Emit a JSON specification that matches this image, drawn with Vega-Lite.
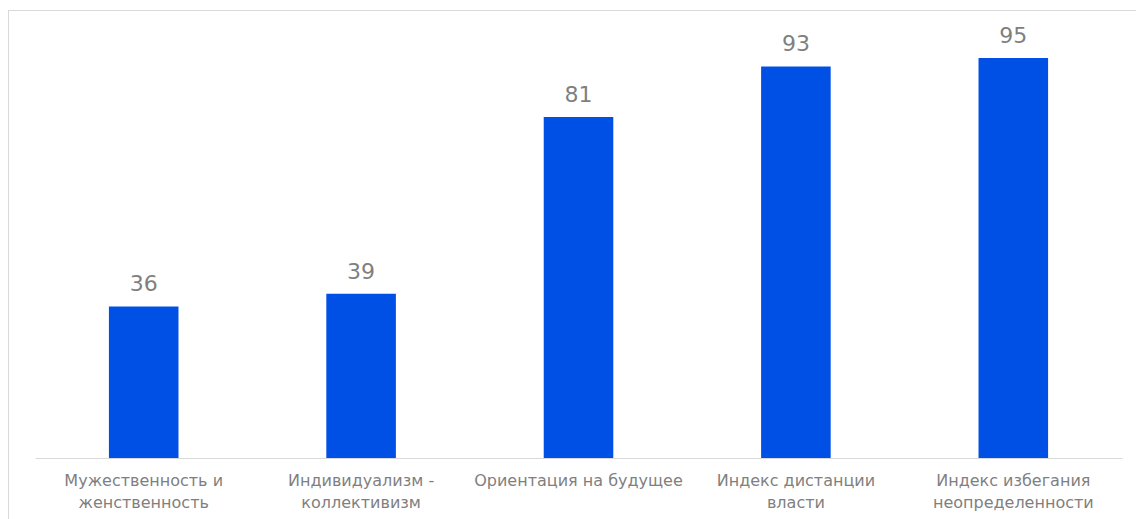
{
  "$schema": "https://vega.github.io/schema/vega-lite/v6.json",
  "width": 1128,
  "height": 509,
  "autosize": {"type": "none"},
  "padding": {"left": 8, "top": 10, "right": 0, "bottom": 0},
  "background": "#ffffff",
  "config": {"view": {"stroke": null}, "font": "DejaVu Sans"},
  "data": {
    "values": [
      {"category": "Мужественность и|женственность", "value": 36},
      {"category": "Индивидуализм -|коллективизм", "value": 39},
      {"category": "Ориентация на будущее", "value": 81},
      {"category": "Индекс дистанции|власти", "value": 93},
      {"category": "Индекс избегания|неопределенности", "value": 95}
    ]
  },
  "encoding": {
    "x": {
      "field": "category",
      "type": "nominal",
      "sort": null,
      "scale": {"range": [27, 1114], "paddingInner": 0.68, "paddingOuter": 0.34},
      "axis": {
        "title": null,
        "orient": "bottom",
        "offset": -61,
        "domainColor": "#D9D9D9",
        "domainWidth": 1,
        "ticks": false,
        "labelAngle": 0,
        "labelPadding": 14,
        "labelFontSize": 16,
        "labelFont": "DejaVu Sans",
        "labelColor": "#7F7F7F",
        "labelLineHeight": 22,
        "labelLimit": 400,
        "labelExpr": "split(datum.label, '|')"
      }
    }
  },
  "layer": [
    {
      "mark": {"type": "bar", "color": "#0050E6"},
      "encoding": {
        "y": {
          "field": "value",
          "type": "quantitative",
          "scale": {"domain": [-14.49, 106.4], "nice": false, "zero": false},
          "axis": {
            "title": null,
            "labels": false,
            "ticks": false,
            "grid": false,
            "domainColor": "#D9D9D9",
            "domainWidth": 1
          }
        }
      }
    },
    {
      "mark": {"type": "text", "baseline": "alphabetic", "dy": -15, "fontSize": 22, "font": "DejaVu Sans", "color": "#7F7F7F"},
      "encoding": {
        "y": {"field": "value", "type": "quantitative"},
        "text": {"field": "value", "type": "quantitative"}
      }
    },
    {
      "data": {"values": [{"edge": 106.28}]},
      "mark": {"type": "rule", "color": "#D9D9D9", "strokeWidth": 1},
      "encoding": {
        "x": null,
        "y": {"field": "edge", "type": "quantitative"}
      }
    }
  ]
}
